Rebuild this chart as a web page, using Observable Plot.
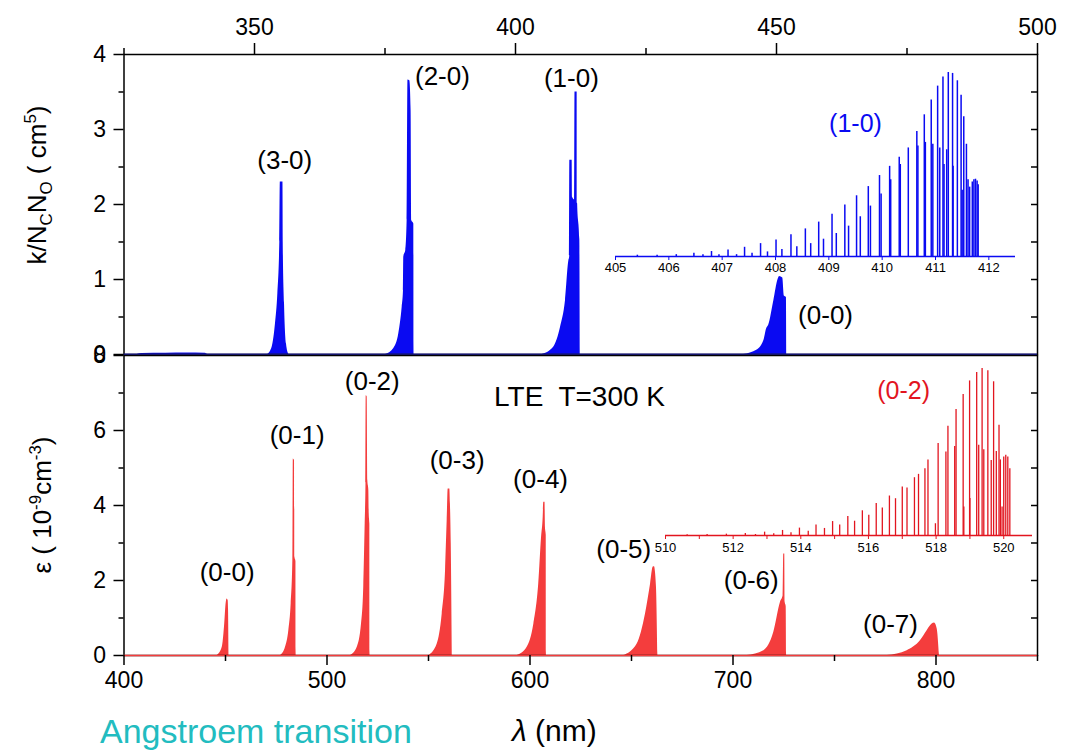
<!DOCTYPE html>
<html><head><meta charset="utf-8">
<script src="https://cdn.jsdelivr.net/npm/d3@7"></script>
<script src="https://cdn.jsdelivr.net/npm/@observablehq/plot@0.6"></script>
<style>
body{margin:0;background:#fff;}
#c{position:relative;width:1074px;height:753px;overflow:hidden;font-family:"Liberation Sans",Arial,sans-serif;background:#fff;}
#c svg{position:absolute;overflow:visible;}
.yt{position:absolute;font-size:26px;white-space:nowrap;transform:translate(-50%,-50%) rotate(-90deg);line-height:1;color:#000;}
.yt sub,.yt sup{font-size:0.65em;line-height:0;}
.bt{position:absolute;white-space:nowrap;line-height:1;}
</style></head><body><div id="c"></div>
<script>
// ---------- data ----------
// top panel: absorption bands [wavelength nm, k/NcNo]
const bumpTop = [[327.5,0],[328.5,0.012],[333,0.016],[337,0.02],[340.5,0.018],[341,0]];
const band30 = [[352.55,0],[353.39,0.1],[354.02,0.41],[354.47,0.81],[354.85,1.5],[354.95,2.3],[355.45,2.3],[355.5,1.5],[355.75,0.68],[356.13,0.14],[356.58,0]];
const band20 = [[375.1,0],[376.69,0.08],[377.65,0.28],[378.29,0.63],[378.54,0.85],[378.6,1.30],[378.99,1.39],[379.24,1.79],[379.4,3.66],[379.75,3.65],[380.0,3.25],[380.1,1.79],[380.52,1.74],[380.56,0]];
const band10 = [[405.1,0],[407.34,0.1],[408.62,0.36],[409.58,0.72],[410.22,1.25],[410.38,1.3],[410.41,2.59],[410.85,2.59],[410.9,2.1],[411.36,2.06],[411.4,3.5],[411.81,3.5],[411.9,2.01],[412.32,1.53],[412.4,0]];
const band00a = [[443.7,0],[446.3,0.06],[447.6,0.19],[448.1,0.34],[448.5,0.39],[449.5,0.72],[450.3,1.0],[450.6,1.04],[451.2,1.02],[451.5,0.78],[451.9,0.76],[451.95,0]];
// bottom panel: emission bands [wavelength nm, epsilon]
const r00 = [[445.9,0],[448.4,0.22],[449.5,0.76],[450.3,1.38],[450.8,1.51],[451.3,1.47],[451.5,1.2],[451.7,0]];
const r01 = [[477.1,0],[479.56,0.22],[481.2,0.67],[482.35,1.38],[483.17,2.53],[483.4,5.24],[484.0,5.2],[484.2,2.62],[484.7,2.5],[484.8,0]];
const r02 = [[511.6,0],[514.9,0.22],[517.0,0.84],[518.1,1.82],[518.8,3.5],[519.2,4.6],[519.3,6.93],[519.8,6.9],[520.1,4.67],[520.6,4.4],[520.8,3.78],[521.1,3.5],[521.2,0]];
const r03 = [[550.15,0],[554.3,0.31],[556.75,1.11],[558.4,2.27],[559.2,3.6],[559.7,4.44],[560.5,4.44],[560.8,4.04],[561.2,3.0],[561.7,0]];
const r04 = [[593.7,0],[598.6,0.22],[601.9,0.84],[604.3,1.91],[605.7,3.16],[606.5,3.69],[606.8,4.09],[607.4,4.09],[607.6,3.42],[608.0,3.2],[608.1,0]];
const r05 = [[646.2,0],[652.8,0.31],[656.9,1.11],[659.4,1.91],[660.7,2.36],[661.3,2.37],[662.3,1.82],[663.0,0]];
const r06 = [[707.0,0],[715.2,0.13],[720.1,0.62],[723.4,1.42],[724.7,1.6],[725.0,2.71],[725.5,2.71],[725.7,1.42],[726.2,1.3],[726.4,0]];
const r07 = [[776.0,0],[785.8,0.13],[792.4,0.4],[795.7,0.67],[798.1,0.84],[799.3,0.87],[800.6,0.71],[801.7,0]];

// band labels
const topLabelText = ["(3-0)","(2-0)","(1-0)","(0-0)"];
const topLabelX = [355.8, 386.0, 410.7, 459.4];
const topLabelY = [2.59, 3.70, 3.68, 0.52];
const botLabelText = ["(0-0)","(0-1)","(0-2)","(0-3)","(0-4)","(0-5)","(0-6)","(0-7)","LTE  T=300 K"];
const botLabelX = [450.8, 485.3, 522.3, 564.1, 605.2, 646.2, 709.0, 777.6, 624.4];
const botLabelY = [2.22, 5.87, 7.29, 5.2, 4.69, 2.83, 2.0, 0.83, 6.88];

// ticks
const topMajor = [350, 400, 450, 500];
const topMinor = [325, 375, 425, 475];
const topYMajor = [0, 1, 2, 3, 4];
const topYMinor = [0.5, 1.5, 2.5, 3.5];
const botMajor = [400, 500, 600, 700, 800];
const botMinor = [450, 550, 650, 750, 850];
const botYMajor = [0, 2, 4, 6, 8];
const botYMinor = [1, 3, 5, 7];

// inset (1-0) rotational lines [nm, relative height]
const inset10 = [[405.41,0.7],[405.78,0.7],[406.14,1],[406.47,1.8],[406.64,1],[406.8,2.7],[406.94,1],[407.11,3.6],[407.27,1],[407.42,5],[407.56,1.8],[407.72,7],[407.85,2.5],[408.01,9],[408.12,3.8],[408.29,11.8],[408.4,5.3],[408.56,15],[408.66,7],[408.81,18.7],[408.9,9.4],[409.06,23],[409.14,12.5],[409.3,28],[409.37,16.5],[409.52,33],[409.59,21.6],[409.74,38],[409.78,27.4],[409.95,44],[409.98,34],[410.14,49],[410.16,41.7],[410.32,54],[410.34,50],[410.49,59],[410.65,68],[410.67,60],[410.79,77],[410.81,62],[410.92,85],[410.95,61],[411.04,92.6],[411.08,59],[411.14,97.6],[411.16,50],[411.21,58],[411.24,100],[411.32,99.5],[411.33,49],[411.41,95.5],[411.48,87.7],[411.5,36],[411.53,76],[411.58,61],[411.61,41.7],[411.64,37.7],[411.69,40.5],[411.72,41.7],[411.75,42],[411.78,41],[411.8,39]];
const inset10Ticks = [405, 406, 407, 408, 409, 410, 411, 412];
// inset (0-2) rotational lines [nm, relative height]
const inset02 = [[510.64,0.4],[511.23,0.6],[511.8,0.8],[512.36,1.2],[512.66,0.6],[512.93,2],[513.2,1],[513.46,3],[513.71,1.6],[513.96,4.4],[514.22,2.6],[514.45,6.2],[514.7,4.2],[514.94,8.3],[515.15,6.2],[515.39,11.3],[515.59,8.5],[515.82,14.7],[516.01,12],[516.23,19],[516.41,16.3],[516.62,23.5],[516.8,21.9],[517.0,28.8],[517.14,28.2],[517.36,34.4],[517.48,36.4],[517.67,39.8],[517.76,45],[517.98,7],[518.06,54.7],[518.29,49.7],[518.35,65],[518.55,53],[518.59,75],[518.8,84],[518.82,17],[518.99,92],[519.0,22],[519.2,97],[519.26,53.7],[519.36,99.4],[519.41,51],[519.53,98],[519.63,44.7],[519.7,91.5],[519.78,50],[519.86,65.6],[519.9,45],[519.95,17],[520.0,46.7],[520.06,47.7],[520.12,46.7],[520.18,39.8]];
const inset02Ticks = [510, 511, 512, 513, 514, 515, 516, 517, 518, 519, 520];

// ---------- drawing ----------
const FONT = '"Liberation Sans", Arial, Helvetica, sans-serif';
const BLUE = "#0a0af2", RED = "#f43d3d", INRED = "#e2151f", NAVY = "#1c1c8c", TEAL = "#22bcc0";
const xy = {x: d => d[0], y: d => d[1]};
const band = (data, fill) => Plot.areaY(data, {...xy, fill, curve: "monotone-x"});
const blank = () => "";
const intFmt = d => String(d);
const baseStyle = {fontFamily: FONT, fontSize: "23px", background: "transparent", color: "black", overflow: "visible"};

const topChart = Plot.plot({
  width: 1074, height: 355, marginLeft: 123.5, marginRight: 37, marginTop: 54, marginBottom: 1,
  x: {domain: [325, 500], label: null}, y: {domain: [0, 4], label: null},
  style: baseStyle,
  marks: [
    ...[bumpTop, band30, band20, band10, band00a].map(b => band(b, BLUE)),
    Plot.frame({stroke: "black", strokeWidth: 1.5}),
    Plot.ruleY([0], {stroke: NAVY, strokeWidth: 2}),
    Plot.axisX({anchor: "top", ticks: topMajor, tickSize: 12, tickPadding: 8, tickFormat: intFmt, strokeWidth: 1.5, label: null}),
    Plot.axisX({anchor: "top", ticks: topMinor, tickSize: 7, tickFormat: blank, strokeWidth: 1.5, label: null}),
    Plot.axisY({anchor: "left", ticks: topYMajor, tickSize: 10, tickPadding: 8, tickFormat: intFmt, strokeWidth: 1.5, label: null}),
    Plot.axisY({anchor: "left", ticks: topYMinor, tickSize: 5, tickFormat: blank, strokeWidth: 1.5, label: null}),
    Plot.axisY({anchor: "right", ticks: topYMinor.concat(topYMajor.slice(1, 4)), tickSize: 7, dx: -7, tickFormat: blank, strokeWidth: 1.5, label: null}),
    Plot.text(topLabelText, {x: (d, i) => topLabelX[i], y: (d, i) => topLabelY[i], text: d => d, fontSize: 26})
  ]
});

const botChart = Plot.plot({
  width: 1074, height: 700, marginLeft: 123.5, marginRight: 37, marginTop: 355, marginBottom: 45,
  x: {domain: [400, 850], label: null}, y: {domain: [0, 8], label: null},
  style: baseStyle,
  marks: [
    ...[r00, r01, r02, r03, r04, r05, r06, r07].map(b => band(b, RED)),
    Plot.frame({stroke: "black", strokeWidth: 1.5}),
    Plot.ruleY([0], {stroke: RED, strokeWidth: 1.5}),
    Plot.axisX({anchor: "bottom", ticks: botMajor, tickSize: 10, tickPadding: 6, tickFormat: intFmt, strokeWidth: 1.5, label: null}),
    Plot.axisX({anchor: "bottom", ticks: botMinor, tickSize: 6, tickFormat: blank, strokeWidth: 1.5, label: null}),
    Plot.axisY({anchor: "left", ticks: botYMajor, tickSize: 10, tickPadding: 8, tickFormat: intFmt, strokeWidth: 1.5, label: null}),
    Plot.axisY({anchor: "left", ticks: botYMinor, tickSize: 5, tickFormat: blank, strokeWidth: 1.5, label: null}),
    Plot.axisY({anchor: "right", ticks: [1, 2, 3, 4, 5, 6, 7], tickSize: 7, dx: -7, tickFormat: blank, strokeWidth: 1.5, label: null}),
    Plot.text(botLabelText, {x: (d, i) => botLabelX[i], y: (d, i) => botLabelY[i], text: d => d, fontSize: (d, i) => i === 8 ? 28 : 26})
  ]
});

const inset1 = Plot.plot({
  width: 440, height: 220, marginLeft: 15, marginRight: 25, marginTop: 12, marginBottom: 24,
  x: {domain: [405, 412.5], label: null}, y: {domain: [0, 100], label: null, axis: null},
  style: {...baseStyle, fontSize: "13px"},
  marks: [
    Plot.ruleX(inset10, {x: d => d[0], y1: 0, y2: d => d[1], stroke: BLUE, strokeWidth: 1.5}),
    Plot.ruleY([0], {stroke: BLUE, strokeWidth: 1.5}),
    Plot.axisX({anchor: "bottom", ticks: inset10Ticks, tickSize: 4, tickPadding: 2, tickFormat: intFmt, stroke: BLUE, strokeWidth: 1, label: null}),
    Plot.text(["(1-0)"], {x: 409.5, y: 72, text: d => d, fill: BLUE, fontSize: 25})
  ]
});

const inset2 = Plot.plot({
  width: 420, height: 215, marginLeft: 25, marginRight: 28, marginTop: 17, marginBottom: 30,
  x: {domain: [510, 520.85], label: null}, y: {domain: [0, 100], label: null, axis: null},
  style: {...baseStyle, fontSize: "13px"},
  marks: [
    Plot.ruleX(inset02, {x: d => d[0], y1: 0, y2: d => d[1], stroke: INRED, strokeWidth: 1.3}),
    Plot.ruleY([0], {stroke: INRED, strokeWidth: 1.5}),
    Plot.axisX({anchor: "bottom", ticks: inset02Ticks, tickSize: 4, tickPadding: 3, stroke: INRED, strokeWidth: 1, tickFormat: d => d % 2 === 0 ? String(d) : "", label: null}),
    Plot.text(["(0-2)"], {x: 517.04, y: 86.3, text: d => d, fill: INRED, fontSize: 25})
  ]
});

const c = document.getElementById("c");
function place(el, left, top) { el.style.position = "absolute"; el.style.left = left + "px"; el.style.top = top + "px"; c.appendChild(el); }
place(topChart, 0, 0);
place(botChart, 0, 0);
place(inset1, 600, 60);
place(inset2, 640, 350);

function addDiv(html, cls, left, top, extra) {
  const d = document.createElement("div");
  d.className = cls; d.innerHTML = html;
  d.style.left = left + "px"; d.style.top = top + "px";
  Object.assign(d.style, extra || {});
  c.appendChild(d);
}
addDiv("k/N<sub>C</sub>N<sub>O</sub> ( cm<sup>5</sup>)", "yt", 37, 185);
addDiv("ε ( 10<sup>-9</sup>cm<sup>-3</sup>)", "yt", 42, 505);
addDiv("Angstroem transition", "bt", 100, 714, {fontSize: "34px", color: TEAL});
addDiv("<i>λ</i> (nm)", "bt", 512, 716, {fontSize: "30px", color: "#000"});
</script></body></html>
